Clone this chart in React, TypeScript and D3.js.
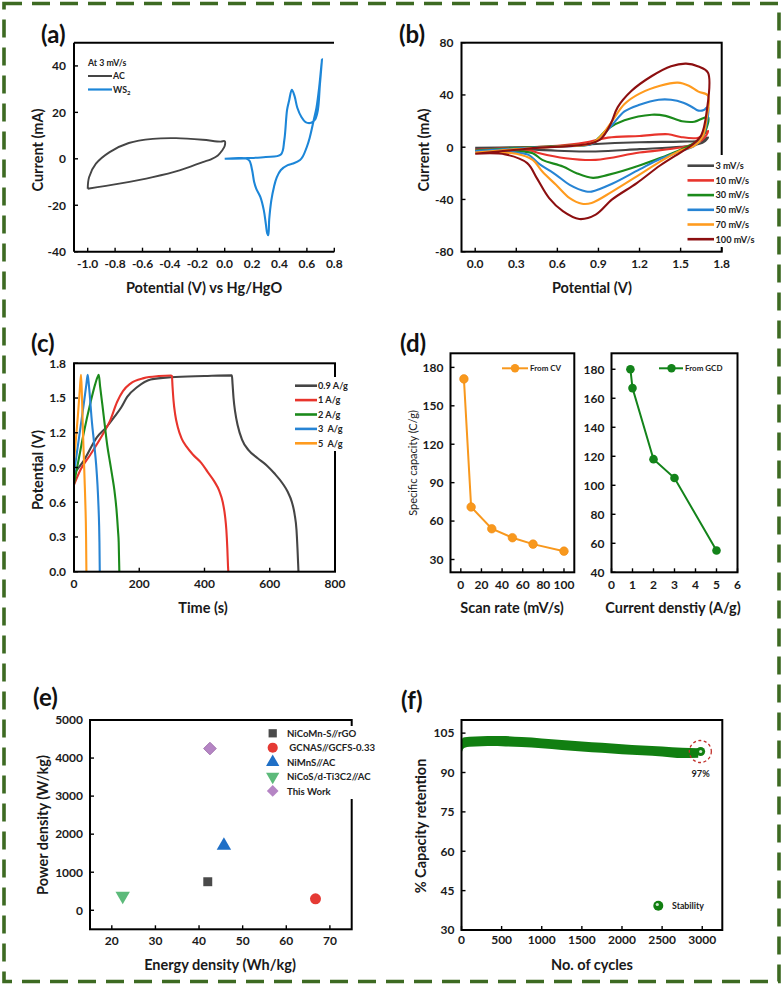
import React from 'react';
import * as d3 from 'd3';

type P = [number, number];
const FONT = "Lato, 'Open Sans', sans-serif";

// ---------- (a) CV at 3 mV/s ----------
const acLoop: P[] = [[-1.0,-12.9],[-0.99,-7.9],[-0.94,-2.1],[-0.84,2.9],[-0.7,6.8],[-0.525,8.6],[-0.355,8.9],[-0.16,8.2],[-0.03,7.4],[0.0,7.6],[0.0,5.5],[-0.02,3.5],[-0.05,1.4],[-0.1,-0.2],[-0.16,-1.4],[-0.33,-5],[-0.525,-7.9],[-0.77,-10.7],[-1.0,-12.9]];
const ws2Loop: P[] = [[0,0],[0.166,0.3],[0.3,0.8],[0.41,1.9],[0.435,8],[0.455,21],[0.47,25],[0.49,29.7],[0.51,27],[0.53,22],[0.56,18],[0.59,15.8],[0.63,15.5],[0.66,17],[0.68,21],[0.695,32],[0.71,42.8],[0.69,31],[0.67,22],[0.65,16.7],[0.62,9],[0.6,5.2],[0.57,1],[0.55,-0.5],[0.5,-2],[0.46,-2.7],[0.41,-4.8],[0.38,-8],[0.36,-12],[0.34,-18],[0.325,-26],[0.318,-32.9],[0.31,-32],[0.3,-27.9],[0.285,-22],[0.26,-16.4],[0.23,-12.8],[0.215,-10],[0.2,-4.8],[0.18,-0.8],[0.15,0.2],[0.1,0.3],[0,0]];
const aXTicks = [-1.0,-0.8,-0.6,-0.4,-0.2,0.0,0.2,0.4,0.6,0.8];
const aYTicks = [-40,-20,0,20,40];

// ---------- (b) CV at scan rates ----------
const cvLabels = ['3 mV/s','10 mV/s','30 mV/s','50 mV/s','70 mV/s','100 mV/s'];
const cv3: P[] = [[0,-0.5],[0.3,0],[0.6,0.5],[0.85,2.3],[1.2,3.8],[1.5,4.3],[1.65,5],[1.7,7.5],[1.67,4],[1.6,1.5],[1.5,0.3],[1.2,-1.5],[0.88,-3.3],[0.6,-2.7],[0.44,-2],[0.2,-1],[0,-0.5]];
const cv10: P[] = [[0,-2],[0.3,-0.5],[0.6,1],[0.8,3.5],[0.97,7.3],[1.2,8.6],[1.41,9.9],[1.5,7.8],[1.63,7.3],[1.7,12.5],[1.68,8],[1.62,3],[1.5,-0.3],[1.2,-4.1],[0.88,-9.7],[0.66,-8.4],[0.47,-4.6],[0.4,-2.5],[0.2,-2],[0,-2]];
const cv30: P[] = [[0,-2.5],[0.3,-0.5],[0.6,0.8],[0.85,2.5],[0.9,7],[0.97,14.2],[1.09,20.6],[1.29,24.9],[1.39,24],[1.51,19.9],[1.6,19.5],[1.7,23],[1.68,12],[1.65,6.9],[1.5,-2],[1.21,-13.6],[0.97,-21.2],[0.86,-23.5],[0.74,-19.9],[0.64,-14.8],[0.49,-9.7],[0.42,-4.6],[0.3,-3],[0,-2.5]];
const cv50: P[] = [[0,-3],[0.3,-1],[0.6,0.5],[0.85,2.5],[0.92,8],[1.0,17],[1.09,27.4],[1.2,32.5],[1.34,36.3],[1.43,36.3],[1.52,34],[1.58,31],[1.63,28],[1.67,28.5],[1.7,31],[1.69,18],[1.66,8],[1.6,1],[1.5,-3],[1.35,-9],[1.2,-17],[1.0,-28],[0.85,-34],[0.81,-33.9],[0.69,-28.8],[0.59,-21.1],[0.46,-12.2],[0.39,-5.9],[0.3,-4],[0,-3]];
const cv70: P[] = [[0,-4],[0.3,-1.5],[0.6,0.5],[0.85,3],[0.93,10],[1.0,20],[1.09,33],[1.2,41],[1.35,47],[1.48,49.4],[1.56,47],[1.63,42.5],[1.7,39.5],[1.69,22],[1.66,8],[1.6,1],[1.5,-2.5],[1.35,-11],[1.2,-21],[1.0,-34],[0.85,-42.7],[0.78,-43.3],[0.69,-39],[0.59,-28.8],[0.49,-18.6],[0.42,-9.7],[0.3,-5],[0,-4]];
const cv100: P[] = [[0,-5],[0.3,-2],[0.47,-0.3],[0.71,1],[0.85,3],[0.92,6.5],[0.99,17.9],[1.04,30.5],[1.14,43],[1.29,54.5],[1.43,62],[1.54,64],[1.63,61.8],[1.7,57],[1.69,27],[1.65,9],[1.58,1.5],[1.51,-3.3],[1.35,-14],[1.18,-27.5],[1.0,-40],[0.88,-51.6],[0.76,-55],[0.64,-49],[0.54,-39],[0.45,-23.7],[0.38,-12.2],[0.22,-5.5],[0,-5]];
const cvSeries = [cv3, cv10, cv30, cv50, cv70, cv100];
const cvColors = ['#454545','#e8342c','#1b8a1b','#2784d4','#ff9b1e','#8c0f10'];
const bXTicks = [0,0.3,0.6,0.9,1.2,1.5,1.8];
const bYTicks = [-80,-40,0,40,80];

// ---------- (c) GCD ----------
const gcdLabels = ['0.9 A/g','1 A/g','2 A/g','3  A/g','5  A/g'];
const gcd09: P[] = [[0,0.85],[30,0.96],[70,1.16],[100,1.25],[122,1.33],[145,1.42],[163,1.51],[194,1.595],[235,1.66],[297,1.68],[400,1.69],[484,1.696],[486,1.62],[489,1.5],[494,1.38],[502,1.26],[515,1.14],[535,1.05],[563,0.98],[590,0.92],[614,0.85],[640,0.76],[655,0.69],[668,0.6],[676,0.5],[682,0.36],[685,0.2],[687,0.07],[688,0]];
const gcd1: P[] = [[0,0.75],[20,0.88],[50,1.01],[91,1.2],[110,1.3],[132,1.466],[150,1.56],[173,1.625],[214,1.672],[260,1.69],[297,1.695],[300,1.69],[302,1.6],[305,1.48],[310,1.36],[318,1.25],[330,1.15],[345,1.08],[365,1.01],[390,0.94],[410,0.86],[430,0.78],[445,0.7],[456,0.6],[463,0.48],[467,0.36],[470,0.2],[472,0.05],[473,0]];
const gcd2: P[] = [[0,0.76],[15,0.98],[30,1.2],[51,1.466],[65,1.62],[72,1.68],[76,1.7],[80,1.6],[87,1.44],[95,1.25],[102,1.09],[110,0.95],[117,0.83],[124,0.7],[130,0.545],[135,0.35],[137,0.255],[139,0]];
const gcd3: P[] = [[0,0.85],[10,1.05],[20,1.25],[30,1.45],[38,1.62],[42,1.7],[46,1.6],[55,1.29],[62,1.1],[68,0.92],[72,0.75],[75,0.57],[77,0.4],[78,0.255],[79,0]];
const gcd5: P[] = [[0,0.95],[6,1.15],[12,1.35],[18,1.58],[21.5,1.7],[24,1.55],[27,1.25],[30,1.0],[33,0.75],[35,0.57],[37,0.3],[38,0]];
const gcdSeries = [gcd09, gcd1, gcd2, gcd3, gcd5];
const gcdColors = ['#454545','#e8342c','#1b8a1b','#2784d4','#ff9b1e'];
const cXTicks = [0,200,400,600,800];
const cYTicks = [0,0.3,0.6,0.9,1.2,1.5,1.8];

// ---------- (d) specific capacity ----------
const scanRates = [3,10,30,50,70,100];
const capCV = [171,71,54,47,42,36.5];
const currentDensity = [0.9,1,2,3,5];
const capGCD = [180,167,118,105,55];
const dLXTicks = [0,20,40,60,80,100];
const dLYTicks = [30,60,90,120,150,180];
const dRXTicks = [0,1,2,3,4,5,6];
const dRYTicks = [40,60,80,100,120,140,160,180];

// ---------- (e) Ragone ----------
const ragoneNames = ['NiCoMn-S//rGO',' GCNAS//GCFS-0.33','NiMnS//AC','NiCoS/d-Ti3C2//AC','This Work'];
const ragoneEnergy = [42,66.7,45.7,22.5,42.5];
const ragonePower = [750,300,1700,380,4250];
const ragoneColors = ['#4a4a4a','#e53a34','#1f6fc6','#5cba7a','#b585c4'];
const eXTicks = [20,30,40,50,60,70];
const eYTicks = [0,1000,2000,3000,4000,5000];

// ---------- (f) stability ----------
const stabCycles = [0,15,40,100,250,400,500,750,1000,1250,1500,1750,2000,2250,2500,2750,2950];
const stabUpper = [101.5,103.2,103.4,103.6,103.8,103.9,103.9,103.5,103,102.4,101.8,101.3,100.8,100.3,99.9,99.4,99.2];
const stabLower = [97.2,98.6,99.4,99.8,100,100.1,100,99.7,99.2,98.6,98,97.5,97,96.6,96.1,95.5,95.6];
const stabEndCycle = 2980;
const stabEndValue = 98;
const fXTicks = [0,500,1000,1500,2000,2500,3000];
const fYTicks = [30,45,60,75,90,105];

// ---------- helpers ----------
type Lin = d3.ScaleLinear<number, number>;
const TICK_FS = 12;

function XAxis({ x, y0, ticks, fmt, off = 16 }: { x: Lin; y0: number; ticks: number[]; fmt: (v: number) => string; off?: number }) {
  return (
    <g>
      {ticks.map((t) => (
        <g key={t}>
          <line x1={x(t)} x2={x(t)} y1={y0} y2={y0 - 4} stroke="#000" strokeWidth={1.4} />
          <text x={x(t)} y={y0 + off} textAnchor="middle" fontSize={TICK_FS} fontWeight="bold" fill="#1a1a1a">{fmt(t)}</text>
        </g>
      ))}
    </g>
  );
}
function YAxis({ y, x0, ticks, fmt, off = 8 }: { y: Lin; x0: number; ticks: number[]; fmt: (v: number) => string; off?: number }) {
  return (
    <g>
      {ticks.map((t) => (
        <g key={t}>
          <line x1={x0} x2={x0 + 4} y1={y(t)} y2={y(t)} stroke="#000" strokeWidth={1.4} />
          <text x={x0 - off} y={y(t) + 4.3} textAnchor="end" fontSize={TICK_FS} fontWeight="bold" fill="#1a1a1a">{fmt(t)}</text>
        </g>
      ))}
    </g>
  );
}
const f1 = (v: number) => v.toFixed(1);
const f0 = (v: number) => String(v);

function lineOf(x: Lin, y: Lin, curve: d3.CurveFactory = d3.curveCatmullRom.alpha(0.5)) {
  return d3.line<P>().x((d) => x(d[0])).y((d) => y(d[1])).curve(curve);
}

function PanelLabel({ x, y, t }: { x: number; y: number; t: string }) {
  return <text x={x} y={y} fontSize={24} fontWeight="bold" fill="#111">{t}</text>;
}
function Title({ x, y, t, rot = false, fs = 14.5, fw = 'bold' }: { x: number; y: number; t: string; rot?: boolean; fs?: number; fw?: string }) {
  return (
    <text x={x} y={y} fontSize={fs} fontWeight={fw} textAnchor="middle" fill="#1a1a1a" transform={rot ? `rotate(-90 ${x} ${y})` : undefined}>{t}</text>
  );
}

export default function App() {
  const xA = d3.scaleLinear().domain([-1.1, 0.8]).range([74, 334.3]);
  const yA = d3.scaleLinear().domain([-40, 50]).range([251.7, 42.7]);
  const xB = d3.scaleLinear().domain([-0.1, 1.8]).range([461.5, 721.7]);
  const yB = d3.scaleLinear().domain([-80, 80]).range([251.7, 42.7]);
  const xC = d3.scaleLinear().domain([0, 800]).range([74, 335]);
  const yC = d3.scaleLinear().domain([0, 1.8]).range([571.7, 363.3]);
  const xD1 = d3.scaleLinear().domain([-10, 110]).range([450.5, 574.3]);
  const yD1 = d3.scaleLinear().domain([20, 191]).range([572.3, 353.3]);
  const xD2 = d3.scaleLinear().domain([0, 6]).range([611.5, 737.5]);
  const yD2 = d3.scaleLinear().domain([40, 191]).range([572.3, 353.3]);
  const xE = d3.scaleLinear().domain([15, 75]).range([90, 351.7]);
  const yE = d3.scaleLinear().domain([-500, 5000]).range([929.3, 720]);
  const xF = d3.scaleLinear().domain([0, 3250]).range([461.5, 722.3]);
  const yF = d3.scaleLinear().domain([30, 110]).range([930, 720]);

  const lA = lineOf(xA, yA);
  const lB = lineOf(xB, yB);
  const lC = lineOf(xC, yC, d3.curveMonotoneX);
  const lD1 = lineOf(xD1, yD1, d3.curveLinear);
  const lD2 = lineOf(xD2, yD2, d3.curveLinear);

  const stabArea = d3
    .area<number>()
    .x((_, i) => xF(stabCycles[i]))
    .y0((_, i) => yF(stabLower[i]))
    .y1((_, i) => yF(stabUpper[i]))
    .curve(d3.curveMonotoneX);

  const symTypes = [d3.symbolSquare, d3.symbolCircle, d3.symbolTriangle, d3.symbolTriangle, d3.symbolSquare];
  const symRot = [0, 0, 0, 180, 45];
  const symSize = [80, 95, 90, 90, 80];
  const sym = (i: number, s = 1) => d3.symbol().type(symTypes[i]).size(symSize[i] * s)() as string;

  const frame = (x0: number, x1: number, y0: number, y1: number) => (
    <rect x={x0} y={y0} width={x1 - x0} height={y1 - y0} fill="none" stroke="#000" strokeWidth={2} />
  );

  return (
    <svg width={783} height={987} style={{ position: 'absolute', left: 0, top: 0, background: '#fff' }} fontFamily={FONT}>
      <rect x={0} y={0} width={783} height={987} fill="#fff" />
      <rect x={4} y={3.5} width={775} height={978} fill="none" stroke="#3d6a22" strokeWidth={3.6} strokeDasharray="18 10" />

      {/* ========== (a) ========== */}
      <PanelLabel x={41} y={43} t="(a)" />
      <line x1={74} x2={334} y1={42.7} y2={42.7} stroke="#000" strokeWidth={2} />
      <line x1={74} x2={74} y1={42.7} y2={251.7} stroke="#000" strokeWidth={2} />
      <line x1={74} x2={334.3} y1={251.7} y2={251.7} stroke="#000" strokeWidth={2} />
      <XAxis x={xA} y0={251.7} ticks={aXTicks} fmt={f1} />
      <YAxis y={yA} x0={74} ticks={aYTicks} fmt={f0} />
      <path d={lA(acLoop) as string} fill="none" stroke="#454545" strokeWidth={1.9} />
      <path d={lA(ws2Loop) as string} fill="none" stroke="#1c86d8" strokeWidth={2.1} />
      <text x={88} y={66} fontSize={8.8} fontWeight="bold" fill="#222">At 3 mV/s</text>
      <line x1={88} x2={112} y1={76} y2={76} stroke="#454545" strokeWidth={2} />
      <text x={113} y={79} fontSize={8.8} fontWeight="bold" fill="#222">AC</text>
      <line x1={88} x2={112} y1={89.5} y2={89.5} stroke="#1c86d8" strokeWidth={2.2} />
      <text x={113} y={92.5} fontSize={8.8} fontWeight="bold" fill="#222">WS<tspan fontSize={6} dy={2}>2</tspan></text>
      <Title x={43} y={150} t="Current (mA)" rot />
      <Title x={204} y={293} t="Potential (V) vs Hg/HgO" />

      {/* ========== (b) ========== */}
      <PanelLabel x={399} y={43} t="(b)" />
      {cvSeries.map((s, i) => (
        <path key={i} d={lB(s) as string} fill="none" stroke={cvColors[i]} strokeWidth={2.1} />
      ))}
      {frame(461.5, 721.7, 42.7, 251.7)}
      <XAxis x={xB} y0={251.7} ticks={bXTicks} fmt={f1} />
      <YAxis y={yB} x0={461.5} ticks={bYTicks} fmt={f0} />
      <rect x={686} y={155} width={76} height={92} fill="#fff" />
      {cvLabels.map((l, i) => (
        <g key={l}>
          <line x1={687.5} x2={714} y1={165.7 + i * 14.7} y2={165.7 + i * 14.7} stroke={cvColors[i]} strokeWidth={2.6} />
          <text x={715.5} y={169 + i * 14.7} fontSize={9.2} fontWeight="bold" fill="#222">{l}</text>
        </g>
      ))}
      <Title x={429} y={150} t="Current (mA)" rot />
      <Title x={592} y={293} t="Potential (V)" />

      {/* ========== (c) ========== */}
      <PanelLabel x={31} y={352} t="(c)" />
      {gcdSeries.map((s, i) => (
        <path key={i} d={lC(s) as string} fill="none" stroke={gcdColors[i]} strokeWidth={2.1} />
      ))}
      {frame(74, 335, 363.3, 571.7)}
      <XAxis x={xC} y0={571.7} ticks={cXTicks} fmt={f0} />
      <YAxis y={yC} x0={74} ticks={cYTicks} fmt={f1} />
      <rect x={292} y={377} width={60} height={74} fill="#fff" />
      {gcdLabels.map((l, i) => (
        <g key={l}>
          <line x1={295} x2={317} y1={385.7 + i * 14.4} y2={385.7 + i * 14.4} stroke={gcdColors[i]} strokeWidth={2.6} />
          <text x={318} y={389 + i * 14.4} fontSize={9.2} fontWeight="bold" fill="#222" style={{ whiteSpace: 'pre' }}>{l}</text>
        </g>
      ))}
      <Title x={43} y={470} t="Potential (V)" rot />
      <Title x={203} y={613} t="Time (s)" />

      {/* ========== (d) ========== */}
      <PanelLabel x={400} y={352} t="(d)" />
      {frame(450.5, 574.3, 353.3, 572.3)}
      <XAxis x={xD1} y0={572.3} ticks={dLXTicks} fmt={f0} off={16.5} />
      <YAxis y={yD1} x0={450.5} ticks={dLYTicks} fmt={f0} off={7} />
      <path d={lD1(scanRates.map((v, i) => [v, capCV[i]] as P)) as string} fill="none" stroke="#f8981d" strokeWidth={2} />
      {scanRates.map((v, i) => (
        <circle key={i} cx={xD1(v)} cy={yD1(capCV[i])} r={4.3} fill="#f8981d" stroke="#f08a10" strokeWidth={0.6} />
      ))}
      <line x1={502} x2={528} y1={368.3} y2={368.3} stroke="#f8981d" strokeWidth={2} />
      <circle cx={515} cy={368.3} r={4.2} fill="#f8981d" />
      <text x={530} y={371.3} fontSize={8} fontWeight="bold" fill="#222">From CV</text>
      <Title x={417} y={463} t="Specific capacity (C/g)" rot fs={11} fw="normal" />
      <Title x={512} y={613} t="Scan rate (mV/s)" />

      {frame(611.5, 737.5, 353.3, 572.3)}
      <XAxis x={xD2} y0={572.3} ticks={dRXTicks} fmt={f0} off={16.5} />
      <YAxis y={yD2} x0={611.5} ticks={dRYTicks} fmt={f0} off={7} />
      <path d={lD2(currentDensity.map((v, i) => [v, capGCD[i]] as P)) as string} fill="none" stroke="#13831a" strokeWidth={2} />
      {currentDensity.map((v, i) => (
        <circle key={i} cx={xD2(v)} cy={yD2(capGCD[i])} r={4.3} fill="#13831a" />
      ))}
      <line x1={659} x2={683} y1={368.3} y2={368.3} stroke="#13831a" strokeWidth={2} />
      <circle cx={671.5} cy={368.3} r={4.2} fill="#13831a" />
      <text x={685} y={371.3} fontSize={8} fontWeight="bold" fill="#222">From GCD</text>
      <Title x={673} y={613} t="Current denstiy (A/g)" />

      {/* ========== (e) ========== */}
      <PanelLabel x={33} y={706} t="(e)" />
      {frame(90, 351.7, 720, 929.3)}
      <XAxis x={xE} y0={929.3} ticks={eXTicks} fmt={f0} off={15.5} />
      <YAxis y={yE} x0={90} ticks={eYTicks} fmt={f0} off={7} />
      {ragoneEnergy.map((v, i) => (
        <path key={i} d={sym(i)} transform={`translate(${xE(v)},${yE(ragonePower[i])}) rotate(${symRot[i]})`} fill={ragoneColors[i]} stroke={i === 4 ? '#9a6aa8' : 'none'} strokeWidth={0.8} />
      ))}
      <rect x={266} y={726} width={113} height={73} fill="#fff" />
      {ragoneNames.map((n, i) => (
        <g key={n}>
          <path d={sym(i, 0.85)} transform={`translate(272.7,${733.3 + i * 14.4}) rotate(${symRot[i]})`} fill={ragoneColors[i]} />
          <text x={287} y={737 + i * 14.4} fontSize={9.6} fontWeight="bold" fill="#222" style={{ whiteSpace: 'pre' }}>{n}</text>
        </g>
      ))}
      <Title x={48} y={825} t="Power density (W/kg)" rot />
      <Title x={220} y={970} t="Energy density (Wh/kg)" />

      {/* ========== (f) ========== */}
      <PanelLabel x={401} y={709} t="(f)" />
      <path d={stabArea(stabCycles) as string} fill="#117f11" />
      <circle cx={xF(stabEndCycle)} cy={yF(stabEndValue)} r={4.5} fill="#117f11" />
      <circle cx={xF(stabEndCycle)} cy={yF(stabEndValue)} r={1.6} fill="#cfe8cf" />
      <circle cx={xF(stabEndCycle) - 0.3} cy={yF(stabEndValue)} r={11} fill="none" stroke="#c0302a" strokeWidth={1.3} strokeDasharray="3 2.5" />
      <text x={xF(stabEndCycle)} y={776.5} textAnchor="middle" fontSize={9.2} fontWeight="bold" fill="#222">97%</text>
      {frame(461.5, 722.3, 720, 930)}
      <XAxis x={xF} y0={930} ticks={fXTicks} fmt={f0} off={13.5} />
      <YAxis y={yF} x0={461.5} ticks={fYTicks} fmt={f0} off={7} />
      <circle cx={658.3} cy={905.7} r={5} fill="#117f11" />
      <circle cx={657.3} cy={904.5} r={1.6} fill="#cfe8cf" />
      <text x={672} y={909} fontSize={8.8} fontWeight="bold" fill="#222">Stability</text>
      <Title x={426} y={826} t="% Capacity retention" rot />
      <Title x={592} y={970} t="No. of cycles" />
    </svg>
  );
}
